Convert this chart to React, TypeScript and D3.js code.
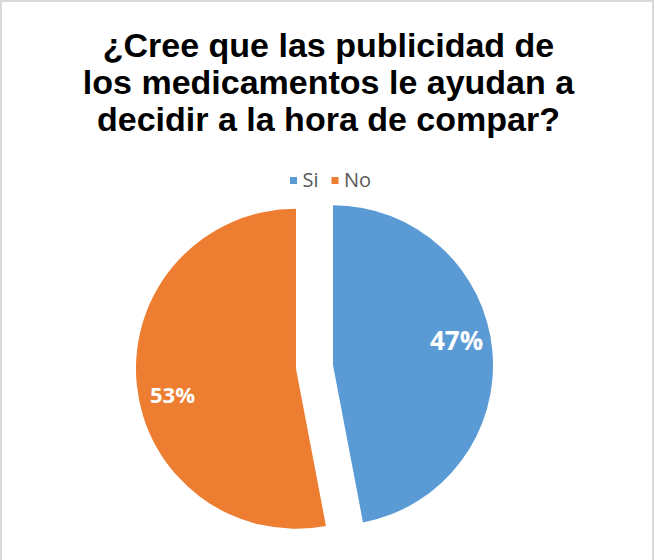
import React from "react";
import * as d3 from "d3";

const titleLines = [
  "¿Cree que las publicidad de",
  "los medicamentos le ayudan a",
  "decidir a la hora de compar?",
];
const categories = ["Si", "No"];
const values = [47, 53];
const colors = ["#5B9BD5", "#ED7D31"];
const labelSizes = [26, 22];

const W = 655;
const H = 560;

export default function App() {
  const cx = 314.5;
  const cy = 367;
  const r = 160;
  const explode = 18.6;
  const labelR = 126;
  const labelShift = (-6 * Math.PI) / 180;

  const pie = d3.pie<number>().sort(null).value((d) => d).startAngle(0).endAngle(2 * Math.PI);
  const arcs = pie(values);
  const arcGen = d3.arc<d3.PieArcDatum<number>>().innerRadius(0).outerRadius(r);

  const legendItems = categories.map((c, i) => ({ c, i }));
  const legendX = [290, 331.5];

  return (
    <div style={{ position: "absolute", left: 0, top: 0 }}>
      <svg width={W} height={H} style={{ display: "block" }}>
        <rect x={0} y={0} width={W} height={H} fill="#ffffff" />
        <rect x={1} y={1} width={652} height={H + 10} fill="none" stroke="#d9d9d9" strokeWidth={2} />
        <g fontFamily="'Liberation Sans', Arial, sans-serif" fontWeight="bold" fontSize={34} fill="#000" textAnchor="middle">
          {titleLines.map((t, i) => (
            <text key={i} x={328.5} y={57 + i * 37}>
              {t}
            </text>
          ))}
        </g>
        <g fontFamily="'Open Sans', sans-serif" fontSize={20} fill="#595959">
          {legendItems.map(({ c, i }) => (
            <g key={c}>
              <rect x={legendX[i]} y={177} width={7} height={7} fill={colors[i]} />
              <text x={legendX[i] + 12.5} y={186.5}>
                {c}
              </text>
            </g>
          ))}
        </g>
        {arcs.map((a, i) => {
          const mid = (a.startAngle + a.endAngle) / 2;
          const ox = cx + explode * Math.sin(mid);
          const oy = cy - explode * Math.cos(mid);
          const la = mid + labelShift;
          const lx = ox + labelR * Math.sin(la);
          const ly = oy - labelR * Math.cos(la);
          return (
            <g key={i}>
              <path d={arcGen(a) || ""} transform={`translate(${ox},${oy})`} fill={colors[i]} />
              <text
                x={lx}
                y={ly}
                textAnchor="middle"
                dominantBaseline="central"
                fontFamily="'Open Sans', sans-serif"
                fontWeight="bold"
                fontSize={labelSizes[i]}
                fill="#ffffff"
              >
                {values[i]}%
              </text>
            </g>
          );
        })}
      </svg>
    </div>
  );
}
